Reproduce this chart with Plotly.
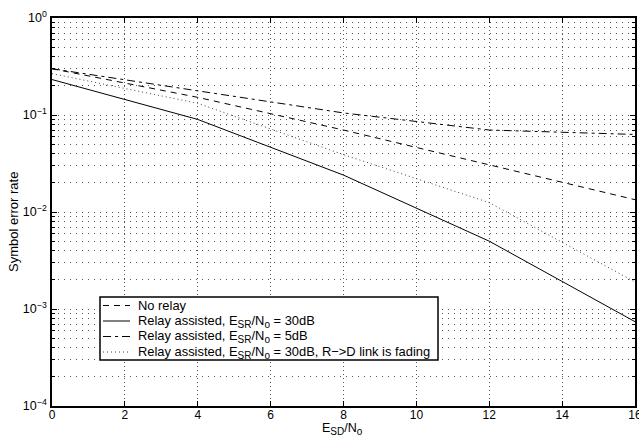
import plotly.graph_objects as go

snr_all = [0, 4, 8, 12, 16]
no_relay = [0.30, 0.152, 0.070, 0.0306, 0.0134]
relay_30 = [0.232, 0.090, 0.024, 0.0050, 0.00074]
relay_5 = [0.30, 0.179, 0.105, 0.070, 0.063]
relay_fading = [0.267, 0.132, 0.039, 0.0125, 0.0019]

y_tickvals = [1e-4, 1e-3, 1e-2, 1e-1, 1]
y_ticktext = ["10<sup>−4</sup>", "10<sup>−3</sup>", "10<sup>−2</sup>", "10<sup>−1</sup>", "10<sup>0</sup>"]
x_tickvals = [0, 2, 4, 6, 8, 10, 12, 14, 16]

def sub(s):
    return "<sub><span style='font-size:10px'>" + s + "</span></sub>"

names = [
    "No relay",
    "Relay assisted, E" + sub("SR") + "/N" + sub("o") + " = 30dB",
    "Relay assisted, E" + sub("SR") + "/N" + sub("o") + " = 5dB",
    "Relay assisted, E" + sub("SR") + "/N" + sub("o") + " = 30dB, R−>D link is fading",
]
series = [no_relay, relay_30, relay_5, relay_fading]
dashes = ["6px,5px", "solid", "8px,4px,3px,4px", "1px,3px"]
colors = ["black", "black", "black", "#444"]

# target plot area in page pixels (body margin removed by post_script)
L, R, T, B = 52, 635, 18, 406
FW, FH = 639, 437
W, H = R - L, B - T
def px(x):
    return (x - L) / W
def py(y):
    return (B - y) / H

fig = go.Figure()
for nm, ys, d, c in zip(names, series, dashes, colors):
    fig.add_trace(go.Scatter(x=snr_all, y=ys, mode="lines", name=nm, showlegend=False,
                             line=dict(color=c, width=1, dash=d)))

font = "Liberation Sans, Arial, sans-serif"
shapes = [dict(type="rect", xref="paper", yref="paper",
               x0=px(100), x1=px(438), y0=py(360), y1=py(297),
               line=dict(color="black", width=1.5), fillcolor="white", layer="above")]
annotations = []
rows = [305.5, 321, 336.5, 352]
for nm, d, c, ry in zip(names, dashes, colors, rows):
    shapes.append(dict(type="line", xref="paper", yref="paper",
                       x0=px(103), x1=px(130), y0=py(ry), y1=py(ry),
                       line=dict(color=c, width=1, dash=d), layer="above"))
    annotations.append(dict(text=nm, xref="paper", yref="paper", x=px(136), y=py(ry),
                            xanchor="left", yanchor="middle", showarrow=False,
                            font=dict(size=12.9, family=font)))
annotations.append(dict(text="E" + sub("SD") + "/N" + sub("o"), xref="paper", yref="paper",
                        x=px(342), y=py(429), xanchor="center", yanchor="middle",
                        showarrow=False, font=dict(size=12.5, family=font)))
annotations.append(dict(text="Symbol error rate", xref="paper", yref="paper",
                        x=px(13), y=py(222), xanchor="center", yanchor="middle",
                        textangle=-90, showarrow=False, font=dict(size=13, family=font)))

fig.update_layout(
    width=FW, height=FH,
    margin=dict(l=L, r=FW - R, t=T, b=FH - B, pad=0),
    paper_bgcolor="white", plot_bgcolor="white",
    font=dict(family=font, size=12, color="black"),
    showlegend=False,
    shapes=shapes, annotations=annotations,
    xaxis=dict(range=[0, 16], tickvals=x_tickvals, showline=True, mirror="ticks",
               linecolor="black", linewidth=1.5, ticks="inside", ticklen=5,
               tickcolor="black", showgrid=True, gridcolor="#555", griddash="1px,3px",
               gridwidth=1, zeroline=False, automargin=False, ticklabelstandoff=-3,
               ticklabeloverflow="allow", tickfont=dict(size=12)),
    yaxis=dict(type="log", range=[-4, 0], tickvals=y_tickvals, ticktext=y_ticktext,
               showline=True, mirror="ticks", linecolor="black", linewidth=1.5,
               ticks="inside", ticklen=5, tickcolor="black", showgrid=True,
               gridcolor="#555", griddash="1px,5px", gridwidth=1, zeroline=False,
               automargin=False, tickfont=dict(size=12.5), ticklabelstandoff=1,
               minor=dict(dtick="D1", ticks="inside", ticklen=3, tickcolor="black",
                          showgrid=True, gridcolor="#555", griddash="1px,5px", gridwidth=1)),
)
fig.write_html("out.html", config={"displayModeBar": False},
               post_script="document.body.style.margin='0';document.body.style.overflow='hidden';")
